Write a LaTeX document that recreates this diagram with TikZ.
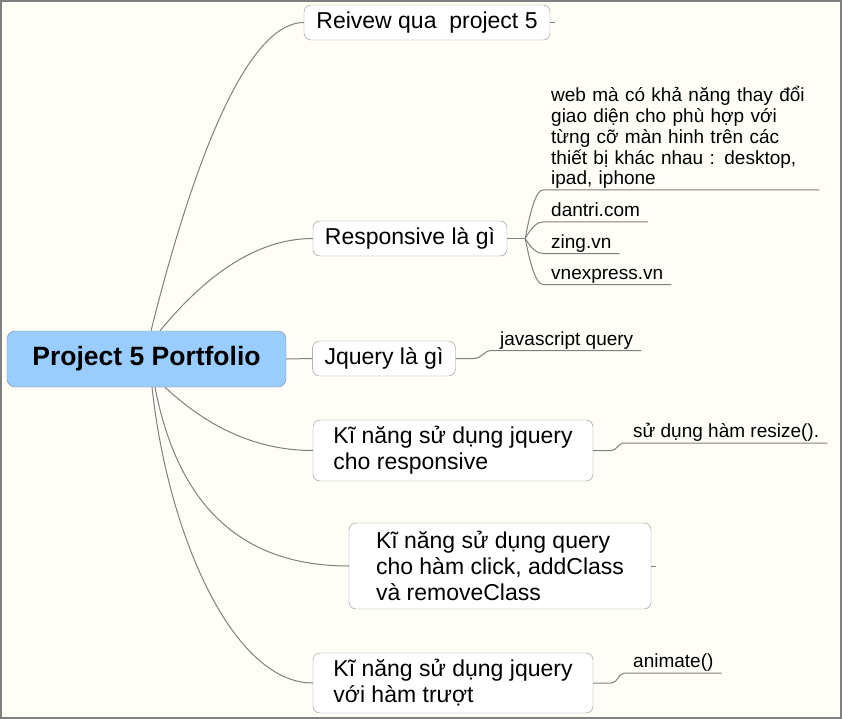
\documentclass[tikz,border=0pt]{standalone}
\usepackage{fontspec}
\setmainfont{Liberation Sans}
\usetikzlibrary{positioning}
\definecolor{paper}{RGB}{255,254,246}
\definecolor{linegray}{RGB}{128,128,128}
\definecolor{boxgray}{RGB}{140,140,140}
\definecolor{topicblue}{RGB}{153,204,255}
\tikzset{
	central/.style={draw=boxgray, fill=topicblue, rounded corners=8pt, minimum width=279pt, minimum height=56pt, font=\fontsize{26.5}{30}\selectfont\bfseries},
	branch/.style={draw=boxgray, fill=white, rounded corners=7pt, align=left, inner xsep=12pt, inner ysep=3pt, font=\fontsize{23}{26}\selectfont},
	leaf/.style={anchor=south west, align=left, inner xsep=8pt, inner ysep=1pt, font=\fontsize{19}{20.8}\selectfont},
	tag/.style={leaf, text depth=4pt},
	conn/.style={draw=linegray, line width=1pt}
}
\begin{document}
\begin{tikzpicture}[x=1pt, y=-1pt]

	\useasboundingbox (0,0) rectangle (842,719);
	\fill[paper] (0,0) rectangle (842,719);
	\draw[linegray, line width=2pt] (1,1) rectangle (841,717.5);

	\node[central] (main) at (146.5,359) {Project 5 Portfolio};

	\node[branch, minimum width=246pt, minimum height=35pt] (rev) at (427,22.5) {Reivew qua\ \ project 5};
	\node[branch, minimum width=194pt, minimum height=35pt] (resp) at (410,238.5) {Responsive là gì};
	\node[branch, minimum width=142pt, minimum height=35pt] (jq) at (384,358.5) {Jquery là gì};
	\node[branch, minimum width=280pt, minimum height=61pt] (skresp) at (453,450.5) {Kĩ năng sử dụng jquery\\cho responsive};
	\node[branch, minimum width=302pt, minimum height=86pt] (skclick) at (500,566) {Kĩ năng sử dụng query\\cho hàm click, addClass\\và removeClass};
	\node[branch, minimum width=280pt, minimum height=60pt] (skslide) at (453,683) {Kĩ năng sử dụng jquery\\với hàm trượt};

	\node[leaf, text width=260pt] (webdef) at (543,190) {web mà có khả năng thay đổi\\giao diện cho phù hợp với\\từng cỡ màn hinh trên các\\thiết bị khác nhau : desktop,\\ipad, iphone};
	\node[tag] (dantri) at (543,222) {dantri.com};
	\node[tag] (zing) at (543,253.5) {zing.vn};
	\node[tag] (vnex) at (543,284.5) {vnexpress.vn};
	\node[tag] (jsq) at (492,350.5) {javascript query};
	\node[tag] (resize) at (625,443) {sử dụng hàm resize().};
	\node[tag] (anim) at (625,673) {animate()};

	\coordinate[right=18pt of resp] (respj);
	\coordinate[right=18pt of jq] (jqj);
	\coordinate[right=17pt of skresp] (skrespj);
	\coordinate[right=18pt of skslide] (skslidej);
	\coordinate[right=5pt of rev] (revstub);
	\coordinate[right=5pt of skclick] (skclickstub);

	\draw[conn] ([xshift=4.5pt]main.north) .. controls +(50,-200) and +(-50,0) .. (rev.west);
	\draw[conn] ([xshift=13.5pt]main.north) .. controls +(51,-62) and +(-51,0) .. (resp.west);
	\draw[conn] (main.east) -- (jq.west);
	\draw[conn] ([xshift=18.5pt]main.south) .. controls +(45,42) and +(-54,0) .. (skresp.west);
	\draw[conn] ([xshift=8.5pt]main.south) .. controls +(23,119) and +(-107,0) .. (skclick.west);
	\draw[conn] ([xshift=5.5pt]main.south) .. controls +(16,148) and +(-80,0) .. (skslide.west);

	\draw[conn] (rev.east) -- (revstub);
	\draw[conn] (skclick.east) -- (skclickstub);

	\draw[conn] (resp.east) -- (respj);
	\draw[conn] (respj) .. controls +(6,-33) and +(-6,0) .. (webdef.south west) -- (webdef.south east);
	\draw[conn] (respj) .. controls +(6,-11) and +(-6,0) .. (dantri.south west) -- (dantri.south east);
	\draw[conn] (respj) .. controls +(6,10) and +(-6,0) .. (zing.south west) -- (zing.south east);
	\draw[conn] (respj) .. controls +(6,31) and +(-6,0) .. (vnex.south west) -- (vnex.south east);

	\draw[conn] (jq.east) -- (jqj) .. controls +(9,0) and +(-9,0) .. (jsq.south west) -- (jsq.south east);
	\draw[conn] (skresp.east) -- (skrespj) .. controls +(8,0) and +(-8,0) .. (resize.south west) -- (resize.south east);
	\draw[conn] (skslide.east) -- (skslidej) .. controls +(7,0) and +(-7,0) .. (anim.south west) -- (anim.south east);

\end{tikzpicture}
\end{document}
